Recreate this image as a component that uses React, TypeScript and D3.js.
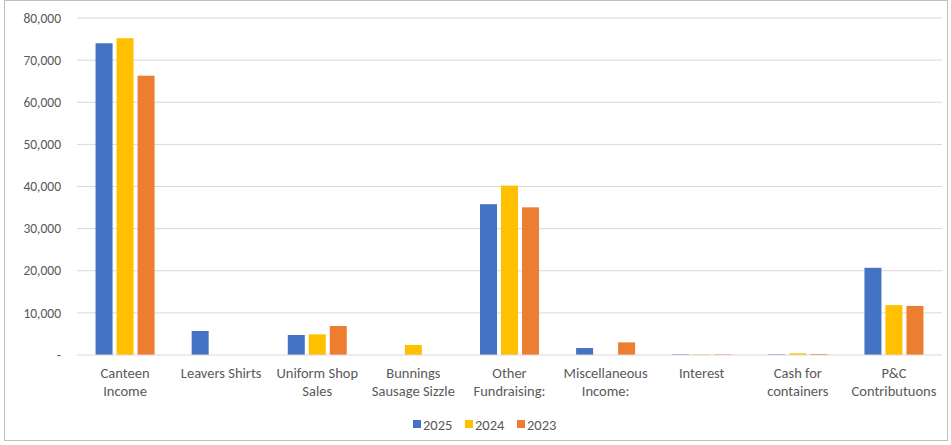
import React from "react";
import * as d3 from "d3";

const categories = [
  ["Canteen", "Income"],
  ["Leavers Shirts"],
  ["Uniform Shop", "Sales"],
  ["Bunnings", "Sausage Sizzle"],
  ["Other", "Fundraising:"],
  ["Miscellaneous", "Income:"],
  ["Interest"],
  ["Cash for", "containers"],
  ["P&C", "Contributuons"],
];
const seriesNames = ["2025", "2024", "2023"];
const values2025 = [74000, 5700, 4750, 0, 35800, 1650, 150, 150, 20700];
const values2024 = [75200, 0, 4900, 2370, 40200, 0, 150, 400, 11850];
const values2023 = [66300, 0, 6880, 0, 35050, 3000, 150, 250, 11650];
const colors = ["#4472C4", "#FFC000", "#ED7D31"];
const yTicks = [0, 10000, 20000, 30000, 40000, 50000, 60000, 70000, 80000];

export default function App() {
  const W = 951, H = 445;
  const left = 77, right = 942, top = 18, bottom = 355;
  const series = [values2025, values2024, values2023];
  const x = d3.scaleBand<number>().domain(d3.range(categories.length)).range([left, right]).paddingInner(0).paddingOuter(0);
  const y = d3.scaleLinear().domain([0, 80000]).range([bottom, top]);
  const band = x.bandwidth();
  const barW = 17, gap = 4;
  const groupW = barW * 3 + gap * 2;
  const fmt = d3.format(",");
  const font = "Calibri, Carlito, Lato, 'Open Sans', sans-serif";
  const txt = "#595959";
  return (
    <svg width={W} height={H} style={{ position: "absolute", left: 0, top: 0, background: "#fff" }} fontFamily={font}>
      <rect x={4.5} y={0.5} width={943} height={440} fill="#fff" stroke="#bfbfbf" />
      {yTicks.map((t) => (
        <g key={t}>
          {t > 0 && <line x1={left} x2={right} y1={y(t)} y2={y(t)} stroke="#d9d9d9" strokeWidth={1} />}
          <text x={61} y={y(t)} dy="0.35em" textAnchor="end" fontSize={13.5} fill={txt}>
            {t === 0 ? "-" : fmt(t)}
          </text>
        </g>
      ))}
      {series.map((vals, si) =>
        vals.map((v, ci) => {
          if (v <= 0) return null;
          const bx = (x(ci) as number) + (band - groupW) / 2 + si * (barW + gap);
          return <rect key={`${si}-${ci}`} x={bx} y={y(v)} width={barW} height={bottom - y(v)} fill={colors[si]} />;
        })
      )}
      <line x1={left} x2={right} y1={bottom} y2={bottom} stroke="#d9d9d9" strokeWidth={1} />
      {categories.map((lines, ci) => (
        <text key={ci} x={(x(ci) as number) + band / 2} y={378} textAnchor="middle" fontSize={14.5} fill={txt}>
          {lines.map((l, li) => (
            <tspan key={li} x={(x(ci) as number) + band / 2} dy={li === 0 ? 0 : 18}>{l}</tspan>
          ))}
        </text>
      ))}
      {seriesNames.map((s, si) => {
        const lx = 413 + si * 52;
        return (
          <g key={s}>
            <rect x={lx} y={420} width={8} height={8} fill={colors[si]} />
            <text x={lx + 10} y={424.5} dy="0.35em" fontSize={14.5} fill={txt}>{s}</text>
          </g>
        );
      })}
    </svg>
  );
}
